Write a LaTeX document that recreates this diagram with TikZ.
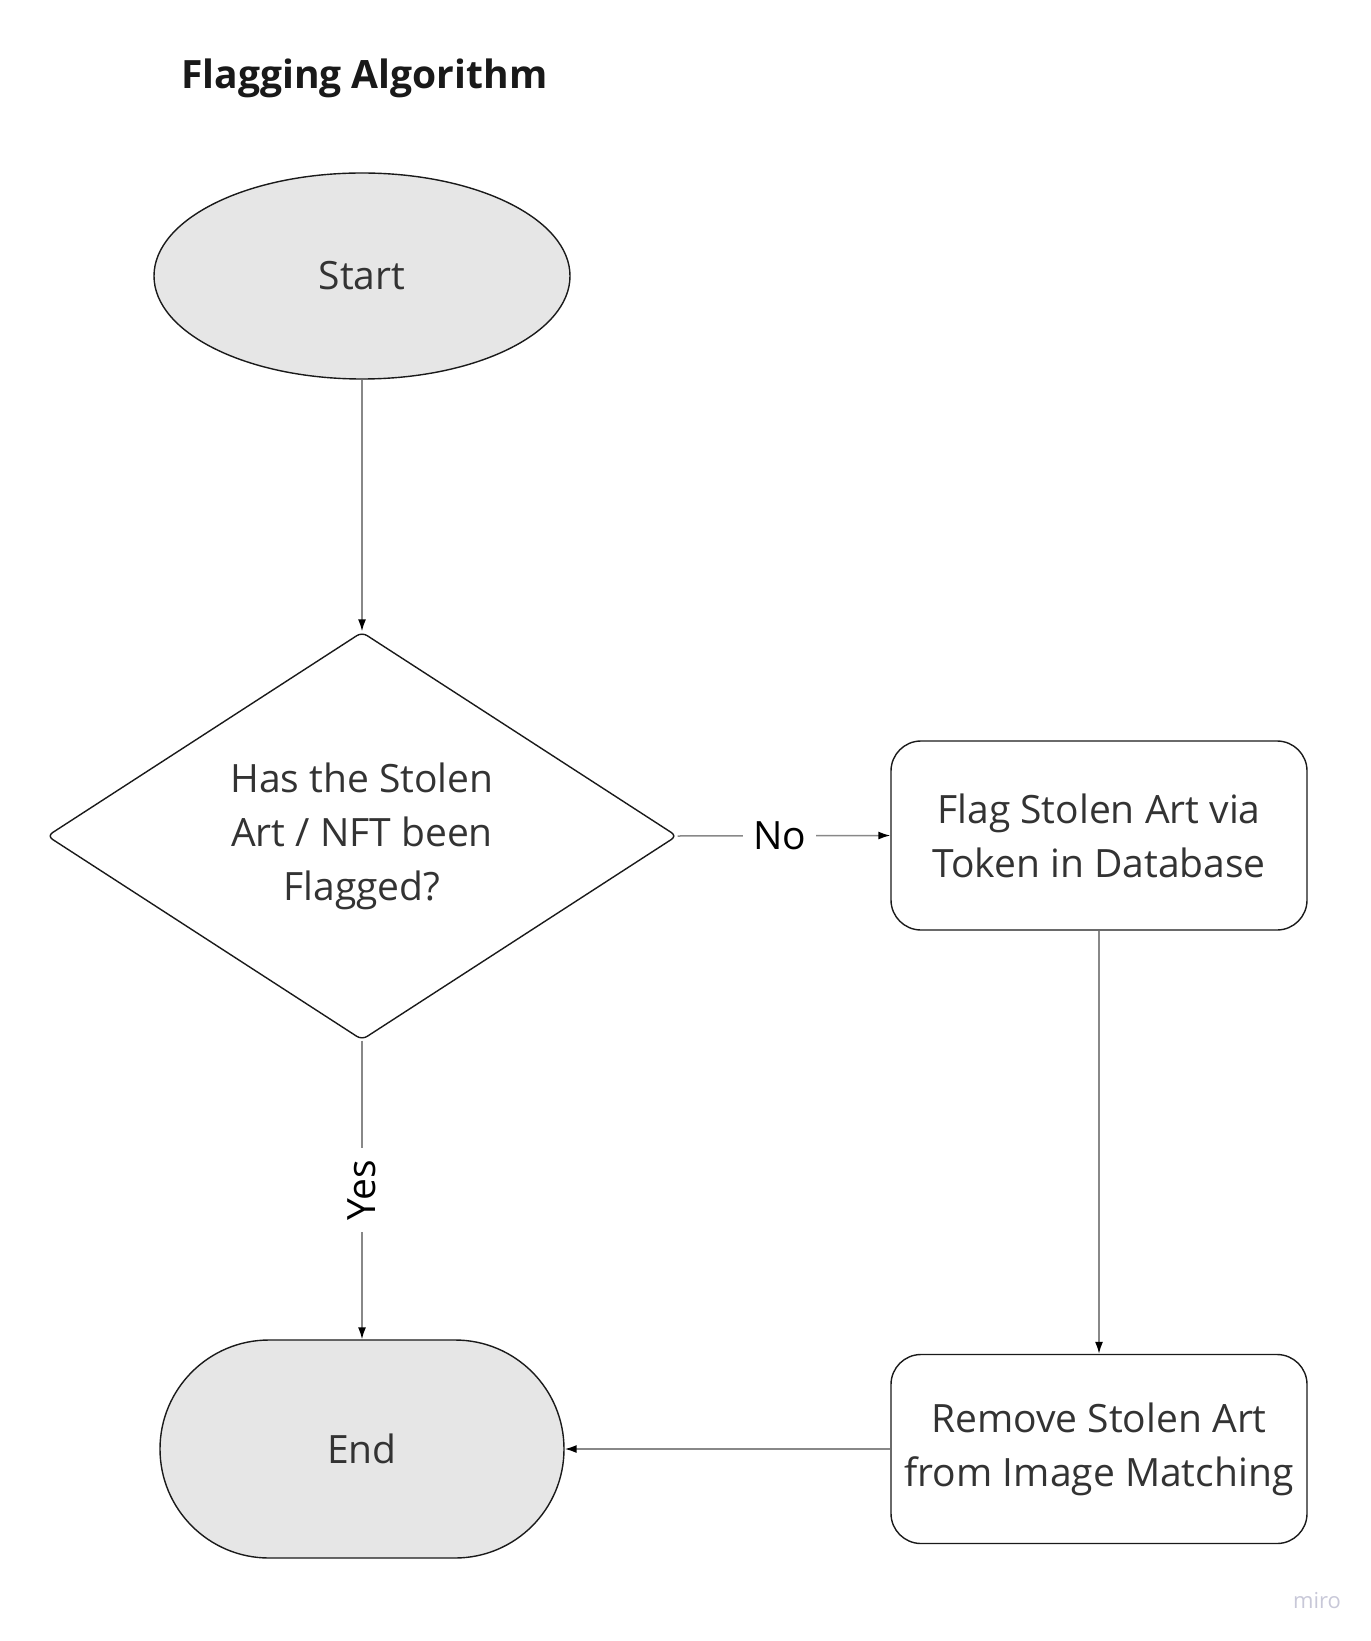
\documentclass[tikz,border=0pt]{standalone}
\usepackage{fontspec}
\setmainfont{Open Sans}
\usetikzlibrary{shapes.geometric,shapes.misc,arrows.meta}
\definecolor{txt}{HTML}{333333}
\definecolor{edge}{HTML}{1A1A1A}
\definecolor{conn}{HTML}{888888}
\definecolor{shade}{HTML}{E6E6E6}
\definecolor{wm}{HTML}{C8C8D8}
\tikzset{
  body/.style={font=\fontsize{19.5pt}{27pt}\selectfont, text=txt, align=center},
  shapeline/.style={draw=edge, line width=0.7pt},
  startshape/.style={ellipse, shapeline, fill=shade, minimum width=208pt, minimum height=103pt, inner sep=0pt, body},
  decshape/.style={diamond, shapeline, rounded corners=3pt, aspect=1.53, minimum width=315pt, minimum height=204pt, inner sep=0pt, body},
  boxshape/.style={rectangle, shapeline, rounded corners=15pt, minimum width=208pt, minimum height=94.5pt, inner sep=0pt, body},
  endshape/.style={rounded rectangle, shapeline, fill=shade, minimum width=202pt, minimum height=109pt, inner sep=0pt, body},
  conline/.style={draw=conn, line width=0.75pt, -{Latex[length=6pt,width=4pt,color=black]}},
  lbl/.style={fill=white, font=\fontsize{19.5pt}{27pt}\selectfont, text=black, inner xsep=5pt, inner ysep=2pt}
}
\begin{document}
\begin{tikzpicture}[x=0.5pt,y=-0.5pt]
\useasboundingbox (0,0) rectangle (1370,1641);
\node[anchor=base west, inner sep=0pt, font=\fontsize{19.5pt}{23pt}\selectfont\bfseries, text=black!90] (title) at (181,89) {Flagging Algorithm};
\node[startshape] (start) at (362,276) {Start};
\node[decshape] (dec) at (362,836) {Has the Stolen\\Art / NFT been\\Flagged?};
\node[boxshape] (flag) at (1099,835.5) {Flag Stolen Art via\\Token in Database};
\node[boxshape] (remove) at (1099,1449) {Remove Stolen Art\\from Image Matching};
\node[endshape] (end) at (362,1449) {End};
\draw[conline] (start.south) -- (dec.north);
\draw[conline] (dec.east) -- node[lbl, pos=0.48] (no) {No} (flag.west);
\draw[conline] (flag.south) -- (remove.north);
\draw[conline] (remove.west) -- (end.east);
\draw[conline] (dec.south) -- node[lbl, rotate=90, inner xsep=6pt] (yes) {Yes} (end.north);
\node[font=\fontsize{11pt}{13pt}\selectfont, text=wm] (miro) at (1317,1601) {miro};
\end{tikzpicture}
\end{document}
